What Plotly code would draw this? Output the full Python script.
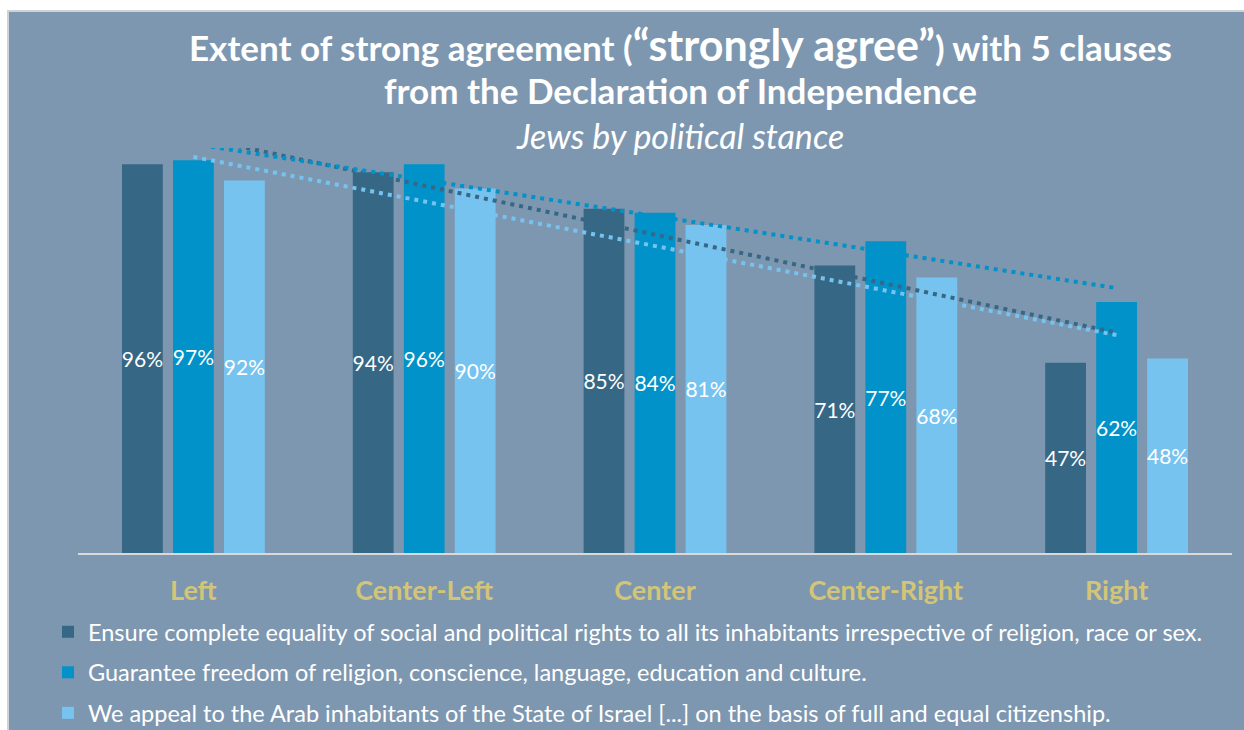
import numpy as np
import plotly.graph_objects as go

# Survey results: share answering "strongly agree", Jews by political stance
stances = ["Left", "Center-Left", "Center", "Center-Right", "Right"]
clause_names = [
    "Ensure complete equality of social and political rights to all its inhabitants irrespective of religion, race or sex.",
    "Guarantee freedom of religion, conscience, language, education and culture.",
    "We appeal to the Arab inhabitants of the State of Israel [...] on the basis of full and equal citizenship.",
]
equality = [96, 94, 85, 71, 47]
freedom = [97, 96, 84, 77, 62]
arab_citizens = [92, 90, 81, 68, 48]

series = [equality, freedom, arab_citizens]
colors = ["#366886", "#0092c8", "#77c3ef"]

BG = "#7e97b0"
GOLD = "#d3c578"
FONT = "Lato"

W, H = 1244, 730
ML, MR, MT, MB = 78, 12, 148, 177
PW, PH = W - ML - MR, H - MT - MB


def px_x(px):
    return (px - ML) / PW


def px_y(py):
    return (H - MB - py) / PH


fig = go.Figure()

for i, (vals, name, col) in enumerate(zip(series, clause_names, colors)):
    fig.add_trace(go.Bar(
        x=stances, y=vals, name=name, marker=dict(color=col, line=dict(width=0)),
        texttemplate="%{y}%", textposition="inside", insidetextanchor="middle",
        textangle=0, textfont=dict(family=FONT, size=21, color="white"),
        legendgroup=f"g{i}", hoverinfo="skip",
    ))

# Linear trend line for each clause, fitted over the five stances
# (clipped at the top of the 0-100% plot area)
idx = np.arange(len(stances))
for i, (vals, col) in enumerate(zip(series, colors)):
    slope, icept = np.polyfit(idx, vals, 1)
    fig.add_trace(go.Scatter(
        x=stances, y=icept + slope * idx, mode="lines",
        line=dict(color=col, width=4, dash="4px,5px"),
        showlegend=False, hoverinfo="skip", cliponaxis=True,
    ))

# Panel background with a thin frame on the top/left
fig.add_shape(type="rect", xref="paper", yref="paper", layer="below",
              x0=px_x(8), x1=px_x(W + 20), y0=px_y(H + 20), y1=px_y(11),
              fillcolor=BG, line=dict(color="#cfd3d6", width=2))

title_x = px_x(680)
fig.add_annotation(
    text='Extent of strong agreement (<span style="font-size:43px">“strongly agree”</span>) with 5 clauses',
    xref="paper", yref="paper", x=title_x, y=px_y(45), showarrow=False,
    xanchor="center", yanchor="middle",
    font=dict(family=FONT, size=35, color="white", weight="bold"))
fig.add_annotation(
    text="from the Declaration of Independence",
    xref="paper", yref="paper", x=title_x, y=px_y(90), showarrow=False,
    xanchor="center", yanchor="middle",
    font=dict(family=FONT, size=35, color="white", weight="bold"))
fig.add_annotation(
    text="<i>Jews by political stance</i>",
    xref="paper", yref="paper", x=title_x, y=px_y(135), showarrow=False,
    xanchor="center", yanchor="middle",
    font=dict(family=FONT, size=34, color="white"))

fig.update_layout(
    width=W, height=H,
    margin=dict(l=ML, r=MR, t=MT, b=MB, pad=0, autoexpand=False),
    paper_bgcolor="white", plot_bgcolor="rgba(0,0,0,0)",
    barmode="group", bargap=0.337, bargroupgap=0.2,
    uniformtext=dict(mode="show", minsize=21),
    showlegend=True,
    legend=dict(
        orientation="v", x=px_x(48), y=px_y(610), xanchor="left", yanchor="top",
        font=dict(family=FONT, size=23.5, color="white"),
        bgcolor="rgba(0,0,0,0)", traceorder="grouped", tracegroupgap=7,
        itemclick=False, itemdoubleclick=False,
    ),
    xaxis=dict(
        showline=True, linecolor="#d9d9d9", linewidth=2, showgrid=False,
        ticks="", tickfont=dict(family=FONT, size=27, color=GOLD, weight="bold"),
        ticklabelstandoff=13, fixedrange=True,
    ),
    yaxis=dict(range=[0, 100], visible=False, showgrid=False, fixedrange=True),
)

fig.write_html("out.html")
